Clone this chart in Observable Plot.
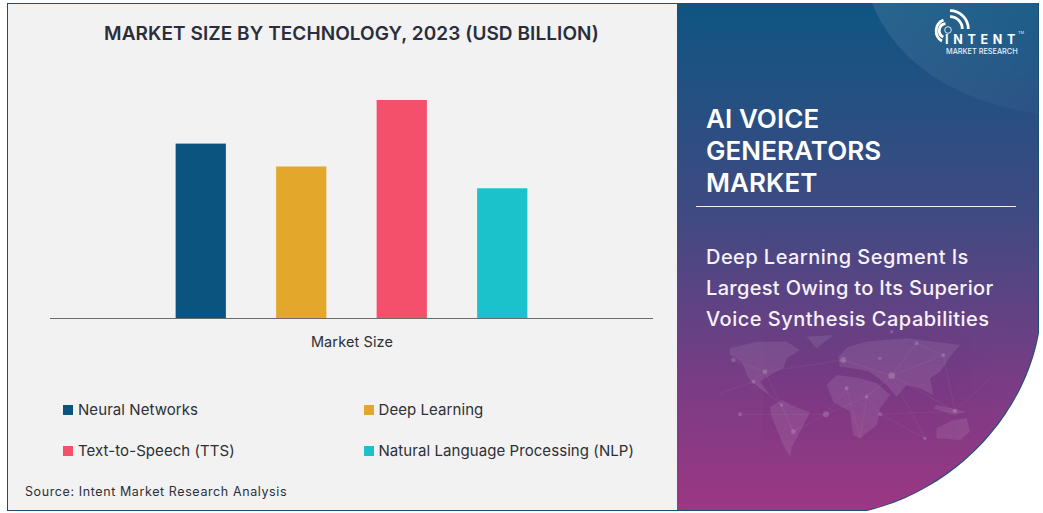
<!DOCTYPE html>
<html><head><meta charset="utf-8">
<script src="https://cdn.jsdelivr.net/npm/d3@7"></script>
<script src="https://cdn.jsdelivr.net/npm/@observablehq/plot@0.6"></script>
<style>
html,body{margin:0;padding:0;background:#fff;}
body{width:1043px;height:513px;position:relative;overflow:hidden;font-family:Inter,"Open Sans",sans-serif;color:#25282f;}
.abs{position:absolute;white-space:nowrap;}
#panel{left:7px;top:3px;width:670px;height:506px;background:#f2f2f2;border:1px solid #1b4f72;border-right:none;box-sizing:content-box;}
#deco{left:0;top:0;}
#title{left:7px;width:689px;top:22px;text-align:center;font-size:19px;font-weight:600;letter-spacing:.07px;color:#2a2d3a;}
#chart{left:50px;top:80px;}
.lg{font-size:15px;letter-spacing:.07px;color:#2d2f36;line-height:18px;}
.sw{width:10px;height:10px;}
#source{left:25px;top:484px;font-size:12.5px;letter-spacing:.6px;color:#2d2f36;}
.h1{left:706px;color:#fff;font-size:26px;font-weight:600;letter-spacing:.07px;line-height:32px;}
.h2{left:706px;color:#f7f2f8;font-size:20px;font-weight:500;line-height:24px;}
</style></head><body>
<div class="abs" id="panel"></div>
<svg class="abs" id="deco" width="1043" height="513" viewBox="0 0 1043 513">
  <defs>
    <linearGradient id="g" x1="0" y1="0" x2="0" y2="1">
      <stop offset="0" stop-color="#0e5582"/>
      <stop offset=".42" stop-color="#404a82"/>
      <stop offset=".75" stop-color="#7a3c85"/>
      <stop offset="1" stop-color="#9c3784"/>
    </linearGradient>
    <linearGradient id="sw" x1="0" y1="0" x2="1" y2="1">
      <stop offset="0" stop-color="#fff" stop-opacity=".10"/>
      <stop offset="1" stop-color="#fff" stop-opacity=".02"/>
    </linearGradient>
    <clipPath id="c"><path d="M677 3H1038V333C1022 420 950 490 867 510H677Z"/></clipPath>
  </defs>
  <path d="M677 3H1039V333C1023 421 951 491 867 511H677Z" fill="#1b4f72"/>
  <g clip-path="url(#c)">
    <rect x="677" y="3" width="361" height="507" fill="url(#g)"/>
    <path d="M872 3C895 60 950 100 1038 114V3Z" fill="url(#sw)"/>
    <g transform="translate(720,325) scale(.3333)" fill="#fff" opacity=".085">
      <path d="M30 70L110 50L200 50L240 75L200 100L190 130L150 150L120 170L150 210L120 190L85 160L65 110L30 90Z"/>
      <path d="M260 35L340 30L290 70Z"/>
      <path d="M150 245L185 225L225 245L270 262L240 320L215 365L210 395L190 360L155 275Z"/>
      <path d="M320 180L350 150L420 160L470 175L510 210L480 250L470 300L420 340L400 330L390 260L340 230Z"/>
      <path d="M355 95L385 65L440 50L560 40L720 60L690 95L660 140L630 160L640 210L600 190L560 180L530 215L500 180L450 140L400 130L360 125Z"/>
      <path d="M650 240L740 260L700 270L640 250Z"/>
      <path d="M650 310L700 285L740 280L750 320L720 345L650 340Z"/>
    </g>
    <g transform="translate(720,325) scale(.3333)" stroke="#fff" stroke-width="1.5" opacity=".09" fill="none">
      <path d="M0 205L100 170L135 140L370 105L515 152L670 90L590 55L515 152L440 215L420 340L380 190L318 268L220 320L185 240L100 170"/>
      <path d="M60 268L318 268L440 215L515 152M480 268L705 258L515 152L615 340L480 268L440 215M220 320L135 140M40 105L135 140M705 258L810 160M670 90L705 258"/>
    </g>
    <g transform="translate(720,325) scale(.3333)" fill="#fff" opacity=".16">
      <circle cx="40" cy="105" r="7"/><circle cx="135" cy="140" r="7"/><circle cx="100" cy="170" r="6"/>
      <circle cx="60" cy="268" r="6"/><circle cx="185" cy="240" r="5"/><circle cx="220" cy="320" r="7"/>
      <circle cx="318" cy="268" r="9"/><circle cx="370" cy="105" r="9"/><circle cx="380" cy="190" r="6"/>
      <circle cx="515" cy="152" r="10"/><circle cx="480" cy="100" r="5"/><circle cx="440" cy="215" r="5"/>
      <circle cx="480" cy="268" r="6"/><circle cx="590" cy="55" r="6"/><circle cx="670" cy="90" r="6"/>
      <circle cx="705" cy="258" r="7"/><circle cx="615" cy="340" r="5"/><circle cx="515" cy="20" r="5"/>
    </g>
  </g>
  <line x1="696" x2="1016" y1="206.5" y2="206.5" stroke="#f4f0f6" stroke-width="1"/>
  <g fill="none" stroke="#fff" stroke-width="2.8" stroke-linecap="butt">
    <path d="M950 10.7A18.3 18.3 0 0 1 968.3 29"/>
    <path d="M950 16.7A12.3 12.3 0 0 1 962.3 29"/>
    <path d="M943.5 20A11.7 11.7 0 0 0 942 41"/>
    <path d="M945.5 23.7A7 7 0 0 0 943.3 37"/>
  </g>
  <circle cx="948" cy="30" r="3.3" fill="none" stroke="#dfe8f0" stroke-width="1"/>
</svg>
<div class="abs" id="title">MARKET SIZE BY TECHNOLOGY, 2023 (USD BILLION)</div>
<div class="abs" id="chart"></div>
<div id="legend"></div>
<div class="abs" id="source">Source: Intent Market Research Analysis</div>
<div class="abs h1" style="top:103px">AI VOICE</div>
<div class="abs h1" style="top:135px">GENERATORS</div>
<div class="abs h1" style="top:167px">MARKET</div>
<div class="abs h2" style="top:245px;letter-spacing:.45px">Deep Learning Segment Is</div>
<div class="abs h2" style="top:276px;letter-spacing:.32px">Largest Owing to Its Superior</div>
<div class="abs h2" style="top:307px;letter-spacing:.5px">Voice Synthesis Capabilities</div>
<div class="abs" style="left:945px;top:35px;color:#fff;font-size:12.5px;font-weight:700;letter-spacing:4.7px;line-height:10px">INTENT</div>
<div class="abs" style="left:946px;top:48px;color:#e6eef5;font-size:7.3px;font-weight:500;line-height:8px">MARKET RESEARCH</div>
<div class="abs" style="left:1018px;top:30px;color:#dfe8f0;font-size:4px;line-height:6px">TM</div>
<script>
const categories = ["Neural Networks", "Deep Learning", "Text-to-Speech (TTS)", "Natural Language Processing (NLP)"];
const marketSize = [1.6, 1.39, 2.0, 1.19];
const colors = ["#0b5480", "#e3a72c", "#f44f6b", "#1bc2cc"];
const metric = "Market Size";
const rows = categories.map((c, i) => ({category: c, value: marketSize[i], metric}));

const chart = Plot.plot({
  width: 603, height: 280,
  marginLeft: 0, marginRight: 0, marginTop: 20, marginBottom: 42,
  style: {background: "transparent", fontFamily: "Inter, sans-serif"},
  fx: {domain: [metric], padding: 0, label: null, axis: "bottom", tickSize: 0, tickPadding: 18, fontSize: 15},
  x: {domain: categories, paddingInner: 0.5, paddingOuter: 1.25, round: false, axis: null},
  y: {domain: [0, 2], axis: null},
  color: {domain: categories, range: colors},
  marks: [
    Plot.barY(rows, {fx: "metric", x: "category", y: "value", fill: "category"}),
    Plot.ruleY([0], {stroke: "#6b6b6b", strokeWidth: 1})
  ]
});
document.getElementById("chart").appendChild(chart);
chart.querySelectorAll('[aria-label="fx-axis tick label"] text').forEach(t => {
  t.style.fontSize = "14.5px"; t.style.fill = "#2d2f36"; t.style.letterSpacing = ".12px";
});

const lx = [63, 364], ly = [410, 451], textGap = [15, 14.5];
const legend = document.getElementById("legend");
categories.forEach((c, i) => {
  const col = i % 2, row = Math.floor(i / 2);
  const s = document.createElement("div");
  s.className = "abs sw"; s.style.left = lx[col] + "px"; s.style.top = (ly[row] - 5) + "px"; s.style.background = colors[i];
  const t = document.createElement("div");
  t.className = "abs lg"; t.style.left = (lx[col] + textGap[col]) + "px"; t.style.top = (ly[row] - 9) + "px"; t.textContent = c;
  legend.append(s, t);
});
</script>
</body></html>
